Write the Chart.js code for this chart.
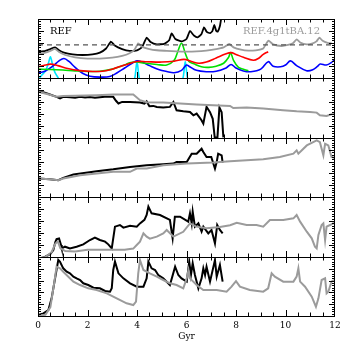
<!DOCTYPE html>
<html>
<head>
<meta charset="utf-8">
<script src="https://cdn.jsdelivr.net/npm/chart.js@4.4.0/dist/chart.umd.min.js"></script>
<style>
  body { margin: 0; background: #fff; }
  #wrap { position: relative; width: 354px; height: 354px; }
  #wrap canvas { position: absolute; left: 0; top: 0; }
</style>
</head>
<body>
<div id="wrap">
  <canvas id="p1" width="354" height="354"></canvas>
  <canvas id="p2" width="354" height="354"></canvas>
  <canvas id="p3" width="354" height="354"></canvas>
  <canvas id="p4" width="354" height="354"></canvas>
  <canvas id="p5" width="354" height="354"></canvas>
</div>
<script>
// x in Gyr, y in arbitrary panel units (0 = panel bottom, 100 = panel top)
const xTicks = [0, 2, 4, 6, 8, 10, 12];
const labelLeft = 'REF';
const labelRight = 'REF.4g1tBA.12';

// panel 1
const p1Dash = [[0, 56], [12, 56]];
const p1Black = [[0,44],[0.3,46],[0.5,49],[0.69,52],[0.85,47],[1.05,43],[1.4,40],[1.8,39],[2.2,40],[2.5,43],[2.75,50],[2.95,61.6],[3.1,55],[3.4,49],[3.7,46],[4.0,47],[4.2,52],[4.39,68.4],[4.55,61],[4.8,57],[5.1,58],[5.3,64],[5.4,75.7],[5.55,66],[5.8,62],[6.0,66],[6.14,79.7],[6.3,72],[6.45,69],[6.6,74],[6.71,85.9],[6.82,78],[6.95,76],[7.05,80],[7.12,89.8],[7.2,80],[7.26,78.5],[7.35,88],[7.42,106]];
const p1Grey = [[0,40],[0.3,43],[0.5,46],[0.69,49.2],[0.85,44],[1.1,39],[1.5,35],[2.0,33],[2.5,33],[3.0,34.5],[3.4,37.5],[3.7,42],[3.9,48],[4.05,58.8],[4.2,53],[4.5,49],[4.8,47],[5.2,46],[5.6,45],[6.0,44.6],[6.4,45],[6.8,46.5],[7.2,49],[7.5,52],[7.73,57.6],[7.9,52],[8.2,48],[8.5,46.3],[8.8,47],[9.1,50],[9.31,63.3],[9.5,57],[9.84,54.2],[10.1,56],[10.3,59],[10.45,65.5],[10.6,60],[10.86,57],[11.1,58.5],[11.25,62],[11.37,68.4],[11.5,63],[11.7,59.5],[11.86,58.8]];
const p1Red = [[0,19],[0.3,22],[0.5,23.5],[0.8,21],[1.2,16],[1.7,12.5],[2.2,11],[2.6,11.5],[3.0,15],[3.5,22],[4.0,28],[4.4,27.5],[5.0,27],[5.5,28.5],[5.9,31.5],[6.2,28],[6.5,25],[6.8,27],[7.2,34],[7.6,41],[7.8,43],[8.0,40],[8.3,35],[8.7,30],[8.9,33],[9.1,40],[9.3,44.6]];
const p1Green = [[0,15],[0.5,14.5],[1.0,13.5],[1.5,12],[2.0,11],[2.5,11.5],[3.0,15],[3.5,22],[3.7,26],[4.0,27],[4.3,25],[4.8,23],[5.2,22],[5.5,30],[5.65,45],[5.8,59],[5.95,42],[6.1,28],[6.3,24],[6.6,19],[6.9,18],[7.2,20],[7.5,25],[7.7,35],[7.78,43],[7.9,30],[8.1,18],[8.3,15],[8.5,12.4]];
const p1Blue = [[0,8],[0.3,12],[0.6,20],[0.85,29],[1.05,33],[1.25,28],[1.5,18],[1.8,8],[2.1,3],[2.5,1.5],[2.9,2.5],[3.2,9],[3.5,17],[3.8,25],[4.0,29],[4.2,27],[4.5,21],[4.9,14],[5.2,11],[5.5,9],[5.8,13],[6.0,22],[6.1,20],[6.4,13],[6.8,10.7],[7.2,11.5],[7.6,17],[7.8,23],[8.0,17],[8.3,12],[8.6,10.7],[9.0,15],[9.3,27.7],[9.5,20],[9.8,19],[10.0,22],[10.2,29],[10.45,21],[10.85,12.4],[11.1,14],[11.3,20],[11.4,23.7],[11.65,22],[11.85,26],[12.0,31.6]];
const p1Cyan = [[0,-10],[0.1,2],[0.3,12],[0.42,25],[0.5,36],[0.58,24],[0.68,10],[0.82,0],[0.95,-12],[2,null],[3.85,-12],[3.93,5],[4.0,28],[4.07,5],[4.15,-12],[5,null],[5.8,-12],[5.88,5],[5.95,28],[6.02,5],[6.1,-12]];

// panel 2
const p2Black = [[0,77],[0.25,76],[0.48,72.5],[0.75,68.6],[0.89,66],[1.02,68.6],[1.3,68],[1.5,67],[1.7,68.6],[1.9,67.5],[2.1,68.5],[2.3,67],[2.5,68],[2.7,68.6],[3.04,68.6],[3.15,62],[3.25,57.5],[3.4,60.2],[3.72,60.2],[4.12,59.1],[4.3,57.4],[4.39,61],[4.5,53],[4.66,53.5],[4.8,51.8],[5.06,50.7],[5.33,51.8],[5.47,60],[5.6,46.2],[5.87,44.5],[6.14,43.4],[6.28,37.8],[6.41,40.6],[6.6,30],[6.68,24],[6.81,52],[6.95,43],[7.06,32],[7.14,1],[7.25,1],[7.33,51],[7.42,43],[7.49,1]];
const p2Grey = [[0,77],[0.48,72],[0.75,68.6],[1.02,70],[1.5,70.5],[2.37,71.4],[3.04,72.5],[3.72,72.5],[3.85,72.5],[4.12,63],[4.39,59.7],[5.06,59],[5.74,57.4],[6.41,55.7],[7.08,54.6],[7.76,53.5],[7.89,50],[8.43,50.7],[9.1,49],[9.9,46.2],[10.45,44.5],[10.99,43.4],[11.26,42.3],[11.39,37.8],[11.66,36.7],[11.86,39.6],[12,40]];

// panel 3
const p3Black = [[0,31.4],[0.48,30.2],[0.82,28.6],[1.02,32.5],[1.43,38],[2.37,43.7],[3.04,47],[3.72,51],[4.39,53.8],[5.06,55.5],[5.47,56.6],[5.6,59.4],[6.01,59.4],[6.21,73.4],[6.41,73.4],[6.61,81.8],[6.68,76.2],[6.81,67.8],[7.0,67.8],[7.15,48.2],[7.22,59.4],[7.28,73.4],[7.42,70.6],[7.46,58.3]];
const p3Grey = [[0,31.4],[0.48,30.2],[0.82,28.6],[1.02,31.4],[1.7,36.9],[3.04,42.6],[3.72,42.6],[3.99,48.2],[4.39,48.2],[5.06,53.8],[6.01,56.6],[7.08,58.3],[7.76,60.5],[8.43,62.2],[9.1,63.9],[9.77,67.8],[10.32,73.4],[10.45,79],[10.52,73.4],[10.86,87.4],[11.26,95.8],[11.39,93],[11.53,70.6],[11.6,90.2],[11.73,87.4],[11.86,67.8],[12,66]];

// panel 4
const p4Black = [[0,-3],[0.28,0],[0.5,5],[0.62,11.7],[0.7,25],[0.75,30],[0.85,31],[0.93,20],[0.96,14.5],[1.09,17.2],[1.29,14.4],[1.56,17.2],[1.83,21.1],[2.1,28.3],[2.3,32.2],[2.5,28.3],[2.71,25.6],[2.84,21.1],[2.98,14.4],[3.11,50.6],[3.31,53.3],[3.45,48.9],[3.72,52.2],[3.99,50.6],[4.12,56],[4.3,62],[4.39,70],[4.46,83.9],[4.59,72.8],[4.93,70],[5.33,61.7],[5.44,31.1],[5.53,67.2],[5.74,67.2],[6.07,58.9],[6.14,72.8],[6.21,56.1],[6.25,75.6],[6.34,50.6],[6.48,56.1],[6.61,42.2],[6.68,50.6],[6.88,39.4],[7.01,45],[7.15,22.8],[7.24,53.3],[7.35,45],[7.46,39.4]];
const p4Grey = [[0,-3],[0.3,0],[0.55,8],[0.7,22],[0.8,26],[0.9,15],[1.1,10],[1.5,9],[2.0,12],[2.5,12],[3.0,12],[3.5,12],[3.85,14],[3.99,20],[4.12,25.6],[4.26,39.4],[4.39,34],[4.52,30.6],[4.8,34],[5.06,39.4],[5.2,45],[5.47,34],[5.87,42],[6.14,56],[6.4,50.6],[6.81,48],[7.35,50],[7.76,53],[8.03,57],[8.43,53.3],[8.83,53.3],[9.1,50.6],[9.37,61.7],[9.91,61.7],[10.32,64.4],[10.45,70],[10.59,58.9],[10.86,42.2],[11.06,31.1],[11.19,17.2],[11.26,14.4],[11.33,36.7],[11.46,53.3],[11.53,56.1],[11.6,28.3],[11.66,50.6],[11.8,53.3],[11.93,56.1],[12,56]];

// panel 5
const p5Black = [[0,1.7],[0.22,4.5],[0.42,10.2],[0.55,29.9],[0.69,64],[0.82,95],[0.89,92],[1.02,80.8],[1.16,75.1],[1.29,72.3],[1.43,66.7],[1.56,63.8],[1.7,61],[1.83,55.4],[2.03,52.5],[2.24,48],[2.5,46.9],[2.71,42.4],[2.91,41.2],[2.98,46.9],[3.04,78],[3.11,92.1],[3.25,72.3],[3.45,63.8],[3.72,55.4],[3.99,49.7],[4.26,49.7],[4.39,63.8],[4.46,92.1],[4.59,80.8],[4.73,78],[4.86,69.5],[5.06,63.8],[5.33,52.5],[5.54,83.6],[5.67,69.5],[5.8,63.8],[6.01,58.2],[6.11,92.1],[6.18,69.5],[6.25,89.3],[6.34,69.5],[6.48,46.9],[6.61,63.8],[6.68,80.8],[6.75,69.5],[6.81,83.6],[6.95,58.2],[7.15,94.9],[7.22,66.7],[7.35,86.4],[7.46,58.2]];
const p5Grey = [[0,1],[0.3,2],[0.5,15],[0.65,55],[0.75,83.6],[0.89,80.8],[1.02,75.1],[1.43,58.2],[1.7,52.5],[2.03,46.9],[2.37,44.1],[2.78,38.4],[3.18,29.9],[3.58,21.5],[3.85,18.6],[3.96,24.3],[4.05,72.3],[4.12,94.9],[4.26,78],[4.52,72.3],[4.8,66.7],[5.06,61],[5.33,55.4],[5.6,52.5],[5.87,46.9],[6.01,63.8],[6.08,78],[6.14,63.8],[6.41,52.5],[6.68,44.1],[7.22,44.1],[7.62,41.2],[7.82,49.7],[8.0,59],[8.16,49.7],[8.56,44.1],[9.1,41.2],[9.3,46.9],[9.44,72.3],[9.57,66.7],[9.91,58.2],[10.32,58.2],[10.45,66.7],[10.52,80.8],[10.59,58.2],[10.79,49.7],[11.06,32.8],[11.23,15.8],[11.33,29.9],[11.46,61],[11.6,63.8],[11.66,38.4],[11.73,41.2],[11.86,58.2],[11.96,61]];

// panel edges in page pixels
const edges = [19, 78, 138, 197, 257, 316];

const GREY = '#9b9b9b';
const pts = a => a.map(([x, y]) => ({ x, y }));
const line = (data, color, width, extra) => Object.assign({
  data: pts(data), borderColor: color, borderWidth: width,
  pointRadius: 0, tension: 0, spanGaps: false
}, extra || {});

const framePlugin = {
  id: 'frame',
  afterDatasetsDraw(chart) {
    const { ctx, chartArea: a, scales: { x, y } } = chart;
    ctx.save();
    ctx.strokeStyle = '#000';
    ctx.lineWidth = 1;
    ctx.strokeRect(a.left + 0.5, a.top + 0.5, a.right - a.left - 1, a.bottom - a.top);
    ctx.beginPath();
    for (let g = 0.5; g < 12; g += 0.5) {
      const px = Math.round(x.getPixelForValue(g)) + 0.5;
      const len = g % 2 === 0 ? 6 : 3.5;
      ctx.moveTo(px, a.top); ctx.lineTo(px, a.top + len);
      ctx.moveTo(px, a.bottom); ctx.lineTo(px, a.bottom - len);
    }
    for (let v = 4; v < 100; v += 4) {
      const py = Math.round(y.getPixelForValue(v)) + 0.5;
      const len = v % 20 === 0 ? 6 : 3;
      ctx.moveTo(a.left, py); ctx.lineTo(a.left + len, py);
      ctx.moveTo(a.right, py); ctx.lineTo(a.right - len, py);
    }
    ctx.stroke();
    ctx.restore();
  }
};

const labelPlugin = {
  id: 'labels',
  afterDraw(chart) {
    const { ctx } = chart;
    ctx.save();
    ctx.font = '10px "DejaVu Serif"';
    ctx.textBaseline = 'alphabetic';
    ctx.fillStyle = '#000';
    ctx.textAlign = 'left';
    ctx.fillText(labelLeft, 50, 34);
    ctx.fillStyle = GREY;
    ctx.textAlign = 'right';
    ctx.fillText(labelRight, 320, 34);
    ctx.restore();
  }
};

function makePanel(id, idx, datasets, isBottom, extraPlugins) {
  const top = edges[idx], bottom = edges[idx + 1];
  const xScale = {
    type: 'linear', min: 0, max: 12,
    display: isBottom,
    grid: { display: false, drawTicks: false },
    border: { display: false },
    afterBuildTicks: s => { s.ticks = xTicks.map(v => ({ value: v })); },
    ticks: { color: '#000', padding: 4, font: { family: 'DejaVu Serif', size: 9 } },
    title: { display: true, text: 'Gyr', color: '#000', padding: { top: 12, bottom: 12 },
             font: { family: 'DejaVu Serif', size: 9 } }
  };
  if (isBottom) xScale.afterFit = s => { s.height = 354 - bottom; };
  new Chart(document.getElementById(id), {
    type: 'line',
    data: { datasets },
    options: {
      responsive: false,
      animation: false,
      events: [],
      layout: { padding: { left: 38, right: 19, top: top, bottom: isBottom ? 0 : 354 - bottom } },
      plugins: { legend: { display: false }, tooltip: { enabled: false } },
      scales: {
        x: xScale,
        y: { type: 'linear', min: 0, max: 100, display: false }
      }
    },
    plugins: [framePlugin].concat(extraPlugins || [])
  });
}

const smooth = { tension: 0.35 };

makePanel('p1', 0, [
  line(p1Dash, '#555', 1.2, { borderDash: [5, 4] }),
  line(p1Grey, GREY, 1.8, { tension: 0.15 }),
  line(p1Red, '#ff0000', 1.6, smooth),
  line(p1Green, '#00e000', 1.6, smooth),
  line(p1Blue, '#0000ff', 1.6, smooth),
  line(p1Cyan, '#00e5ff', 1.6, smooth),
  line(p1Black, '#000', 1.8, { tension: 0.15 })
], false, [labelPlugin]);

makePanel('p2', 1, [line(p2Grey, GREY, 2), line(p2Black, '#000', 2)], false);
makePanel('p3', 2, [line(p3Grey, GREY, 2), line(p3Black, '#000', 2)], false);
makePanel('p4', 3, [line(p4Grey, GREY, 2), line(p4Black, '#000', 2)], false);
makePanel('p5', 4, [line(p5Grey, GREY, 2), line(p5Black, '#000', 2)], true);
</script>
</body>
</html>
